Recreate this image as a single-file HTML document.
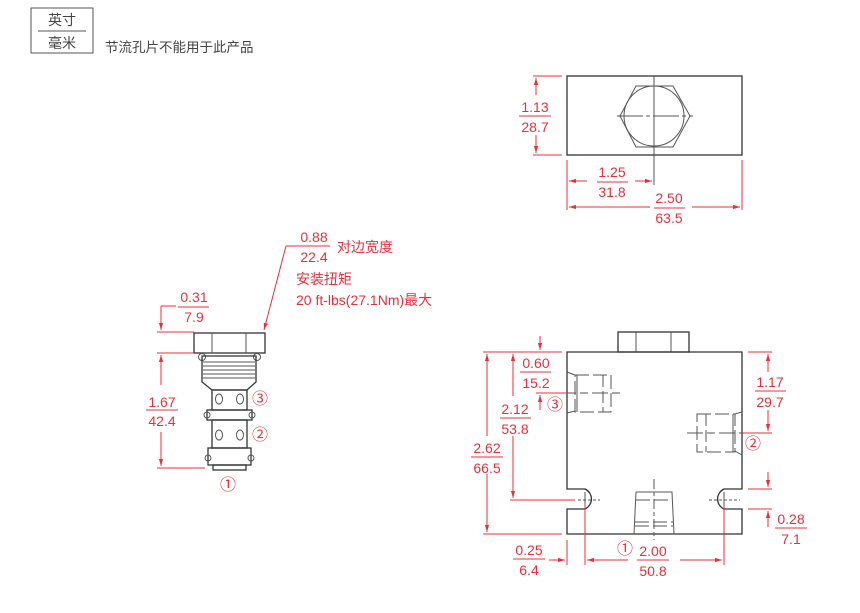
<!DOCTYPE html>
<html><head><meta charset="utf-8"><style>
html,body{margin:0;padding:0;background:#fff;}
svg{display:block;}
text{font-family:"Liberation Sans","Noto Sans CJK SC",sans-serif;}
.r{fill:#e8303a;font-size:14px;}
.c{fill:#e8303a;font-size:16px;}
.d{stroke:#333;stroke-width:1.3;fill:none;}
.t{stroke:#555;stroke-width:1;fill:none;}
.rl{stroke:#e8303a;stroke-width:1;fill:none;}
</style></head><body>
<svg width="860" height="613" viewBox="0 0 860 613" xmlns="http://www.w3.org/2000/svg">
<defs>
<marker id="a" viewBox="0 0 10 10" refX="10" refY="5" markerWidth="7" markerHeight="7" orient="auto-start-reverse"><path d="M0,2 L10,5 L0,8z" fill="#e8303a"/></marker>
</defs>
<rect x="31" y="8" width="62" height="45" fill="none" stroke="#555" stroke-width="1"/>
<line x1="38" y1="31" x2="86" y2="31" stroke="#555"/>
<text x="62" y="25" text-anchor="middle" font-size="14" fill="#444">英寸</text>
<text x="62" y="48" text-anchor="middle" font-size="14" fill="#444">毫米</text>
<text x="105" y="52" font-size="13.5" fill="#444">节流孔片不能用于此产品</text>

<rect x="567" y="76" width="175" height="79" class="d"/>
<polygon points="620,116 636,86 673,86 690,116 673,147 636,147" class="t"/>
<circle cx="654" cy="116" r="30" class="t"/>
<line x1="654" y1="76" x2="654" y2="185" class="t"/>
<line x1="617" y1="116" x2="693" y2="116" class="t" stroke-dasharray="26,3,4,3"/>
<line x1="533" y1="76" x2="562" y2="76" class="rl"/>
<line x1="533" y1="155" x2="562" y2="155" class="rl"/>
<line x1="536" y1="95" x2="536" y2="78" class="rl" marker-end="url(#a)"/>
<line x1="536" y1="135" x2="536" y2="153" class="rl" marker-end="url(#a)"/>
<text x="535" y="112" class="r" text-anchor="middle">1.13</text>
<line x1="519" y1="116" x2="551" y2="116" class="rl"/>
<text x="535" y="132" class="r" text-anchor="middle">28.7</text>
<line x1="567" y1="160" x2="567" y2="210" class="rl"/>
<line x1="742" y1="160" x2="742" y2="210" class="rl"/>
<line x1="587" y1="181" x2="569" y2="181" class="rl" marker-end="url(#a)"/>
<line x1="635" y1="181" x2="652" y2="181" class="rl" marker-end="url(#a)"/>
<text x="612" y="177" class="r" text-anchor="middle">1.25</text>
<line x1="597" y1="182" x2="628" y2="182" class="rl"/>
<text x="612" y="197" class="r" text-anchor="middle">31.8</text>
<line x1="650" y1="207" x2="569" y2="207" class="rl" marker-end="url(#a)"/>
<line x1="692" y1="207" x2="740" y2="207" class="rl" marker-end="url(#a)"/>
<text x="669" y="203" class="r" text-anchor="middle">2.50</text>
<line x1="654" y1="208" x2="685" y2="208" class="rl"/>
<text x="669" y="223" class="r" text-anchor="middle">63.5</text>

<rect x="194" y="333" width="71" height="20" class="d"/>
<line x1="212" y1="333" x2="212" y2="353" class="t"/>
<line x1="246" y1="333" x2="246" y2="353" class="t"/>
<circle cx="202" cy="357" r="3.5" class="t"/><circle cx="257" cy="357" r="3.5" class="t"/>
<path d="M202,356 L256,356 L256,382 L247,390 L212,390 L202,382 Z" class="d"/>
<g class="t"><line x1="203" y1="362" x2="255" y2="362"/><line x1="203" y1="366" x2="255" y2="366"/><line x1="203" y1="370" x2="255" y2="370"/><line x1="203" y1="374" x2="255" y2="374"/><line x1="203" y1="378" x2="255" y2="378"/></g>
<rect x="212" y="390" width="35" height="20" class="d"/>
<ellipse cx="219" cy="399" rx="3.5" ry="5" class="t"/><ellipse cx="240" cy="399" rx="3.5" ry="5" class="t"/>
<rect x="207" y="410" width="45" height="10" class="d"/>
<circle cx="207" cy="415" r="3" class="t"/><circle cx="252" cy="415" r="3" class="t"/>
<rect x="212" y="420" width="35" height="28" class="d"/>
<ellipse cx="219" cy="435" rx="3.5" ry="5" class="t"/><ellipse cx="240" cy="435" rx="3.5" ry="5" class="t"/>
<rect x="208" y="448" width="43" height="17" class="d"/>
<circle cx="208" cy="458" r="3" class="t"/><circle cx="251" cy="458" r="3" class="t"/>
<rect x="213" y="465" width="33" height="5" class="d"/>
<g class="c" text-anchor="middle"><text x="260" y="404">③</text><text x="260" y="440">②</text><text x="228" y="490">①</text></g>
<line x1="157" y1="332" x2="194" y2="332" class="rl"/>
<line x1="157" y1="353" x2="194" y2="353" class="rl"/>
<line x1="157" y1="468" x2="205" y2="468" class="rl"/>
<line x1="161" y1="306" x2="176" y2="306" class="rl"/>
<line x1="161" y1="306" x2="161" y2="330" class="rl" marker-end="url(#a)"/>
<text x="194" y="302" class="r" text-anchor="middle">0.31</text>
<line x1="178" y1="307" x2="209" y2="307" class="rl"/>
<text x="194" y="322" class="r" text-anchor="middle">7.9</text>
<line x1="161" y1="385" x2="161" y2="355" class="rl" marker-end="url(#a)"/>
<line x1="161" y1="432" x2="161" y2="466" class="rl" marker-end="url(#a)"/>
<text x="162" y="407" class="r" text-anchor="middle">1.67</text>
<line x1="146" y1="410" x2="178" y2="410" class="rl"/>
<text x="162" y="426" class="r" text-anchor="middle">42.4</text>
<polyline points="298,246 286,246 264,330" class="rl" marker-end="url(#a)"/>
<text x="314" y="242" class="r" text-anchor="middle">0.88</text>
<line x1="298" y1="246" x2="330" y2="246" class="rl"/>
<text x="314" y="262" class="r" text-anchor="middle">22.4</text>
<text x="337" y="252" class="r">对边宽度</text>
<text x="296" y="284" class="r">安装扭矩</text>
<text x="296" y="305" class="r">20 ft-lbs(27.1Nm)最大</text>

<rect x="618" y="332" width="71" height="20" class="d"/>
<line x1="636" y1="332" x2="636" y2="352" class="t"/><line x1="671" y1="332" x2="671" y2="352" class="t"/>
<path d="M567,352 L742,352 L742,489 L724,489 A11,11 0 0 0 724,509 L742,509 L742,534 L567,534 L567,509 L585,509 A11,11 0 0 0 585,489 L567,489 Z" class="d"/>
<line x1="578" y1="500" x2="600" y2="500" class="t" stroke-dasharray="3,2"/>
<line x1="585" y1="492" x2="585" y2="508" class="t"/>
<line x1="709" y1="500" x2="740" y2="500" class="t" stroke-dasharray="3,2"/>
<line x1="724" y1="492" x2="724" y2="508" class="t"/>
<g class="t">
<line x1="567" y1="372" x2="575" y2="375"/><line x1="567" y1="413" x2="575" y2="411"/>
<path d="M575,375 L611,375 L611,412 L575,412 Z" stroke-dasharray="14,4"/>
<line x1="577" y1="375" x2="577" y2="412"/><line x1="603" y1="375" x2="603" y2="412" stroke-dasharray="12,4"/>
<line x1="560" y1="393" x2="622" y2="393" stroke-dasharray="16,4,8,4"/>
</g>
<g class="t">
<line x1="742" y1="412" x2="735" y2="414"/><line x1="742" y1="455" x2="735" y2="451"/>
<path d="M697,414 L735,414 L735,452 L697,452 Z" stroke-dasharray="14,4"/>
<line x1="733" y1="414" x2="733" y2="452"/><line x1="706" y1="414" x2="706" y2="452" stroke-dasharray="12,4"/>
<line x1="687" y1="433" x2="742" y2="433" stroke-dasharray="16,4,8,4"/>
</g>
<g class="t">
<path d="M636,492 L672,492 L674,534 M634,534 L636,492" />
<path d="M636,500 L672,500 M635,526 L673,526 M635,522 L673,522" stroke-dasharray="14,4"/>
<line x1="654" y1="479" x2="654" y2="540" stroke-dasharray="10,3,4,3"/>
</g>
<line x1="483" y1="352" x2="562" y2="352" class="rl"/>
<line x1="483" y1="534" x2="562" y2="534" class="rl"/>
<line x1="487" y1="436" x2="487" y2="354" class="rl" marker-end="url(#a)"/>
<line x1="487" y1="474" x2="487" y2="532" class="rl" marker-end="url(#a)"/>
<text x="487" y="453" class="r" text-anchor="middle">2.62</text>
<line x1="471" y1="457" x2="503" y2="457" class="rl"/>
<text x="487" y="473" class="r" text-anchor="middle">66.5</text>
<line x1="513" y1="396" x2="513" y2="354" class="rl" marker-end="url(#a)"/>
<line x1="513" y1="436" x2="513" y2="498" class="rl" marker-end="url(#a)"/>
<line x1="510" y1="500" x2="575" y2="500" class="rl"/>
<text x="515" y="414" class="r" text-anchor="middle">2.12</text>
<line x1="500" y1="418" x2="531" y2="418" class="rl"/>
<text x="515" y="434" class="r" text-anchor="middle">53.8</text>
<line x1="540" y1="336" x2="540" y2="350" class="rl" marker-end="url(#a)"/>
<line x1="540" y1="410" x2="540" y2="395" class="rl" marker-end="url(#a)"/>
<line x1="536" y1="393" x2="567" y2="393" class="rl"/>
<text x="536" y="368" class="r" text-anchor="middle">0.60</text>
<line x1="520" y1="372" x2="551" y2="372" class="rl"/>
<text x="536" y="388" class="r" text-anchor="middle">15.2</text>
<text x="555" y="410" class="c" text-anchor="middle">③</text>
<line x1="748" y1="352" x2="772" y2="352" class="rl"/>
<line x1="742" y1="433" x2="772" y2="433" class="rl"/>
<line x1="768" y1="372" x2="768" y2="354" class="rl" marker-end="url(#a)"/>
<line x1="768" y1="410" x2="768" y2="431" class="rl" marker-end="url(#a)"/>
<text x="770" y="387" class="r" text-anchor="middle">1.17</text>
<line x1="755" y1="391" x2="786" y2="391" class="rl"/>
<text x="770" y="407" class="r" text-anchor="middle">29.7</text>
<text x="753" y="449" class="c" text-anchor="middle">②</text>
<line x1="748" y1="489" x2="772" y2="489" class="rl"/>
<line x1="748" y1="509" x2="772" y2="509" class="rl"/>
<line x1="768" y1="472" x2="768" y2="487" class="rl" marker-end="url(#a)"/>
<line x1="768" y1="527" x2="768" y2="511" class="rl" marker-end="url(#a)"/>
<text x="791" y="524" class="r" text-anchor="middle">0.28</text>
<line x1="775" y1="528" x2="807" y2="528" class="rl"/>
<text x="791" y="544" class="r" text-anchor="middle">7.1</text>
<line x1="567" y1="540" x2="567" y2="565" class="rl"/>
<line x1="585" y1="505" x2="585" y2="565" class="rl"/>
<line x1="724" y1="505" x2="724" y2="565" class="rl"/>
<line x1="549" y1="560" x2="565" y2="560" class="rl" marker-end="url(#a)"/>
<text x="529" y="555" class="r" text-anchor="middle">0.25</text>
<line x1="513" y1="559" x2="545" y2="559" class="rl"/>
<text x="529" y="575" class="r" text-anchor="middle">6.4</text>
<line x1="628" y1="560" x2="587" y2="560" class="rl" marker-end="url(#a)"/>
<line x1="680" y1="560" x2="722" y2="560" class="rl" marker-end="url(#a)"/>
<text x="653" y="556" class="r" text-anchor="middle">2.00</text>
<line x1="637" y1="560" x2="669" y2="560" class="rl"/>
<text x="653" y="576" class="r" text-anchor="middle">50.8</text>
<text x="625" y="554" class="c" text-anchor="middle">①</text>
</svg>
</body></html>
